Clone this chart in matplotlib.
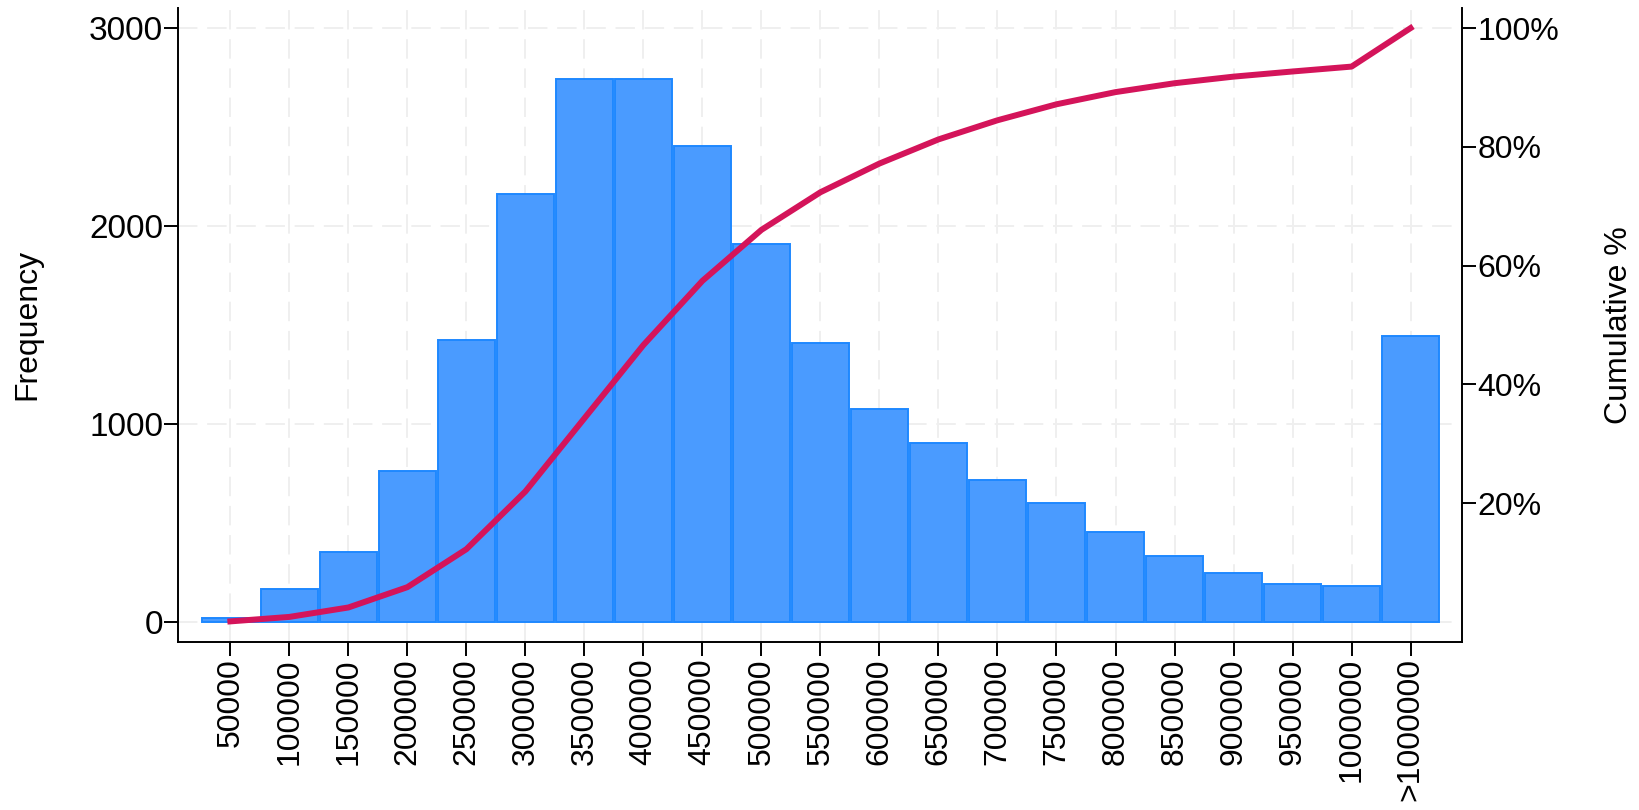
import numpy as np
import matplotlib.pyplot as plt

plt.rcParams['font.family'] = ['Liberation Sans', 'DejaVu Sans']

# histogram bins (upper limits) and counts
bins = ['50000', '100000', '150000', '200000', '250000', '300000', '350000',
        '400000', '450000', '500000', '550000', '600000', '650000', '700000',
        '750000', '800000', '850000', '900000', '950000', '1000000', '>1000000']
counts = [20, 168, 353, 762, 1423, 2164, 2742, 2745, 2405, 1910, 1409,
          1076, 904, 717, 599, 456, 333, 247, 193, 183, 1443]

# cumulative share of all observations
cum_pct = np.cumsum(counts) / np.sum(counts) * 100

fig = plt.figure(figsize=(16.4, 8.1), dpi=100)
ax = fig.add_axes([0.1088, 0.208, 0.7826, 0.782])

x = np.arange(len(bins))
ax.bar(x, counts, width=0.97, color='#4a9bff', edgecolor='#1e88ff',
       linewidth=1.4, zorder=2)

ax.set_xlim(-0.88, 20.87)
ax.set_ylim(-99, 3101)
ax.set_yticks([0, 1000, 2000, 3000])
ax.set_xticks(x)
ax.set_xticklabels(bins, rotation=90)
ax.set_axisbelow(True)
ax.grid(True, color='#efefef', linestyle=(0, (10, 5)), linewidth=1.4)
ax.tick_params(axis='both', length=10, width=1.4, labelsize=23, color='black')
ax.tick_params(axis='y', pad=1, labelsize=24)
ax.tick_params(axis='x', pad=2)

for s in ['top', 'right']:
    ax.spines[s].set_visible(False)
for s in ['left', 'bottom']:
    ax.spines[s].set_linewidth(1.4)
    ax.spines[s].set_color('black')

ax.set_ylabel('Frequency', fontsize=23)
ax.yaxis.set_label_coords(-0.106, 0.5)

# cumulative line on the right-hand axis
ax2 = ax.twinx()
ax2.plot(x, cum_pct, color='#d4145a', linewidth=4.3, zorder=3)
ax2.set_ylim(-99 / 30, 3101 / 30)
pct_ticks = [20, 40, 60, 80, 100]
ax2.set_yticks(pct_ticks)
ax2.set_yticklabels([f'{p}%' for p in pct_ticks])
ax2.tick_params(axis='y', length=10, width=1.4, labelsize=23, pad=1)
for s in ['top', 'left', 'bottom']:
    ax2.spines[s].set_visible(False)
ax2.spines['right'].set_linewidth(1.4)
ax2.spines['right'].set_color('black')

ax2.set_ylabel('Cumulative %', fontsize=23, rotation=90)
ax2.yaxis.set_label_coords(1.111, 0.5)

fig.savefig('out.png', dpi=100)
